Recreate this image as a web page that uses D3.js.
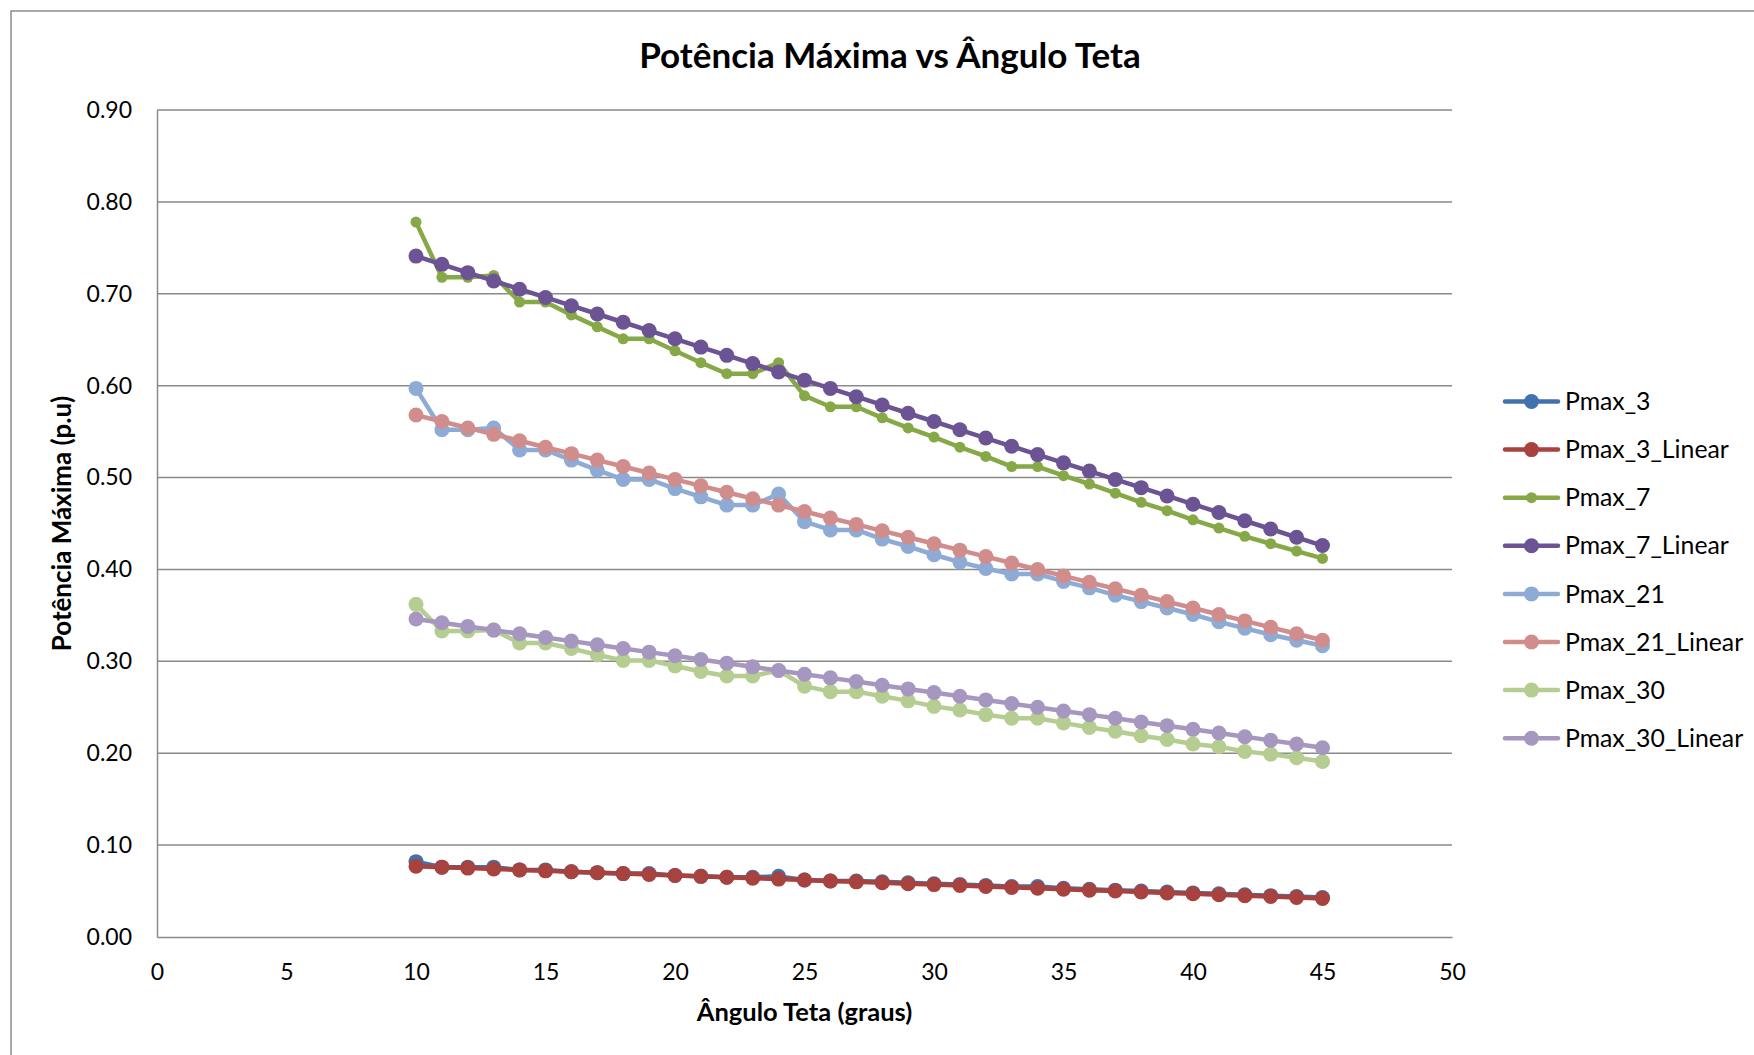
<!DOCTYPE html>
<html>
<head>
<meta charset="utf-8">
<script src="https://cdn.jsdelivr.net/npm/d3@7"></script>
<style>
  body { margin: 0; background: #fff; }
  text { font-family: Lato, "Open Sans", sans-serif; fill: #000; }
</style>
</head>
<body>
<div id="chart"></div>
<script>
// angles (graus)
const angles = [10, 11, 12, 13, 14, 15, 16, 17, 18, 19, 20, 21, 22, 23, 24, 25, 26, 27,
  28, 29, 30, 31, 32, 33, 34, 35, 36, 37, 38, 39, 40, 41, 42, 43, 44, 45]

const pmax3 = [0.082, 0.076, 0.076, 0.076, 0.073, 0.073, 0.071, 0.070, 0.069, 0.069, 0.067, 0.066,
  0.065, 0.065, 0.066, 0.062, 0.061, 0.061, 0.060, 0.059, 0.058, 0.057, 0.056, 0.055, 0.055, 0.053,
  0.052, 0.051, 0.050, 0.049, 0.048, 0.047, 0.046, 0.045, 0.044, 0.043]
const pmax3Linear = [0.077, 0.076, 0.075, 0.074, 0.073, 0.072, 0.071, 0.070, 0.069, 0.068, 0.067,
  0.066, 0.065, 0.064, 0.063, 0.062, 0.061, 0.060, 0.059, 0.058, 0.057, 0.056, 0.055, 0.054, 0.053,
  0.052, 0.051, 0.050, 0.049, 0.048, 0.047, 0.046, 0.045, 0.044, 0.043, 0.042]
const pmax7 = [0.778, 0.718, 0.718, 0.720, 0.691, 0.691, 0.677, 0.664, 0.651, 0.651, 0.638, 0.625,
  0.613, 0.613, 0.625, 0.589, 0.577, 0.577, 0.565, 0.554, 0.544, 0.533, 0.523, 0.512, 0.512, 0.502,
  0.493, 0.483, 0.473, 0.464, 0.454, 0.445, 0.436, 0.428, 0.420, 0.412]
const pmax7Linear = [0.741, 0.732, 0.723, 0.714, 0.705, 0.696, 0.687, 0.678, 0.669, 0.660, 0.651,
  0.642, 0.633, 0.624, 0.615, 0.606, 0.597, 0.588, 0.579, 0.570, 0.561, 0.552, 0.543, 0.534, 0.525,
  0.516, 0.507, 0.498, 0.489, 0.480, 0.471, 0.462, 0.453, 0.444, 0.435, 0.426]
const pmax21 = [0.597, 0.552, 0.552, 0.554, 0.530, 0.530, 0.519, 0.508, 0.498, 0.498, 0.488, 0.479,
  0.470, 0.470, 0.482, 0.452, 0.443, 0.443, 0.433, 0.425, 0.416, 0.408, 0.401, 0.395, 0.395, 0.387,
  0.380, 0.372, 0.365, 0.358, 0.351, 0.343, 0.336, 0.329, 0.323, 0.317]
const pmax21Linear = [0.568, 0.561, 0.554, 0.547, 0.540, 0.533, 0.526, 0.519, 0.512, 0.505, 0.498,
  0.491, 0.484, 0.477, 0.470, 0.463, 0.456, 0.449, 0.442, 0.435, 0.428, 0.421, 0.414, 0.407, 0.400,
  0.393, 0.386, 0.379, 0.372, 0.365, 0.358, 0.351, 0.344, 0.337, 0.330, 0.323]
const pmax30 = [0.362, 0.333, 0.333, 0.334, 0.320, 0.320, 0.314, 0.307, 0.301, 0.301, 0.295, 0.289,
  0.284, 0.284, 0.290, 0.273, 0.267, 0.267, 0.262, 0.257, 0.251, 0.247, 0.242, 0.238, 0.238, 0.233,
  0.228, 0.224, 0.219, 0.215, 0.210, 0.207, 0.202, 0.199, 0.195, 0.191]
const pmax30Linear = [0.346, 0.342, 0.338, 0.334, 0.330, 0.326, 0.322, 0.318, 0.314, 0.310, 0.306,
  0.302, 0.298, 0.294, 0.290, 0.286, 0.282, 0.278, 0.274, 0.270, 0.266, 0.262, 0.258, 0.254, 0.250,
  0.246, 0.242, 0.238, 0.234, 0.230, 0.226, 0.222, 0.218, 0.214, 0.210, 0.206]

const seriesNames = ["Pmax_3", "Pmax_3_Linear", "Pmax_7", "Pmax_7_Linear",
  "Pmax_21", "Pmax_21_Linear", "Pmax_30", "Pmax_30_Linear"]
const seriesValues = [pmax3, pmax3Linear, pmax7, pmax7Linear, pmax21, pmax21Linear, pmax30, pmax30Linear]
const seriesColors = ["#4271ae", "#a8423e", "#86a846", "#6c5393", "#8eabd6", "#d18d8b", "#b5cd90", "#a597c0"]
const markerR = [7.5, 7.5, 5.5, 7.5, 7.5, 7.5, 7.5, 7.5]

const xTicks = [0, 5, 10, 15, 20, 25, 30, 35, 40, 45, 50]
const yTicks = [0, 0.1, 0.2, 0.3, 0.4, 0.5, 0.6, 0.7, 0.8, 0.9]

const width = 1754, height = 1055
const margin = {top: 110, right: 302, bottom: 118, left: 157}

const svg = d3.select("#chart").append("svg")
  .attr("width", width)
  .attr("height", height)

// chart frame
svg.append("rect")
  .attr("x", 11).attr("y", 11)
  .attr("width", width + 20).attr("height", height + 20)
  .attr("fill", "#fff").attr("stroke", "#8c8c8c").attr("stroke-width", 1.5)

const x = d3.scaleLinear().domain([0, 50]).range([margin.left, width - margin.right])
const y = d3.scaleLinear().domain([0, 0.9]).range([height - margin.bottom, margin.top])

// gridlines
svg.append("g")
  .selectAll("line")
  .data(yTicks.filter(d => d > 0))
  .join("line")
  .attr("x1", x(0)).attr("x2", x(50))
  .attr("y1", d => y(d)).attr("y2", d => y(d))
  .attr("stroke", "#8a8a8a").attr("stroke-width", 1.5)

// axes
const yAxis = svg.append("g")
  .attr("transform", `translate(${margin.left},0)`)
  .call(d3.axisLeft(y).tickValues(yTicks).tickFormat(d3.format(".2f")).tickSize(0).tickPadding(25))
const xAxis = svg.append("g")
  .attr("transform", `translate(0,${y(0)})`)
  .call(d3.axisBottom(x).tickValues(xTicks).tickSize(0).tickPadding(27))
;[xAxis, yAxis].forEach(a => {
  a.select(".domain").attr("stroke", "#8a8a8a").attr("stroke-width", 1.5)
  a.selectAll("text").style("font-size", "23px").style("font-family", "Lato, sans-serif").attr("fill", "#000")
})

// series
const line = d3.line()
  .x((d, i) => x(angles[i]))
  .y(d => y(d))

seriesValues.forEach((vals, s) => {
  const g = svg.append("g")
  g.append("path")
    .datum(vals)
    .attr("fill", "none")
    .attr("stroke", seriesColors[s])
    .attr("stroke-width", 4.5)
    .attr("stroke-linejoin", "round")
    .attr("d", line)
  g.selectAll("circle")
    .data(vals)
    .join("circle")
    .attr("cx", (d, i) => x(angles[i]))
    .attr("cy", d => y(d))
    .attr("r", markerR[s])
    .attr("fill", seriesColors[s])
})

// titles
svg.append("text")
  .attr("x", 890).attr("y", 68)
  .attr("text-anchor", "middle")
  .style("font-size", "35px").style("font-weight", "bold")
  .text("Potência Máxima vs Ângulo Teta")

svg.append("text")
  .attr("x", (x(0) + x(50)) / 2).attr("y", 1021)
  .attr("text-anchor", "middle")
  .style("font-size", "25.5px").style("font-weight", "bold")
  .text("Ângulo Teta (graus)")

svg.append("text")
  .attr("transform", `translate(71,${(y(0) + y(0.9)) / 2}) rotate(-90)`)
  .attr("text-anchor", "middle")
  .style("font-size", "26px").style("font-weight", "bold")
  .text("Potência Máxima (p.u)")

// legend
const legend = svg.append("g")
  .selectAll("g")
  .data(seriesNames)
  .join("g")
  .attr("transform", (d, i) => `translate(1505,${401.5 + i * 48.1})`)
legend.append("line")
  .attr("x1", 0).attr("x2", 53)
  .attr("stroke", (d, i) => seriesColors[i])
  .attr("stroke-width", 4.5)
  .attr("stroke-linecap", "round")
legend.append("circle")
  .attr("cx", 26.5)
  .attr("r", (d, i) => markerR[i])
  .attr("fill", (d, i) => seriesColors[i])
legend.append("text")
  .attr("x", 60).attr("dy", "0.35em")
  .style("font-size", "24.8px")
  .text(d => d)
</script>
</body>
</html>
